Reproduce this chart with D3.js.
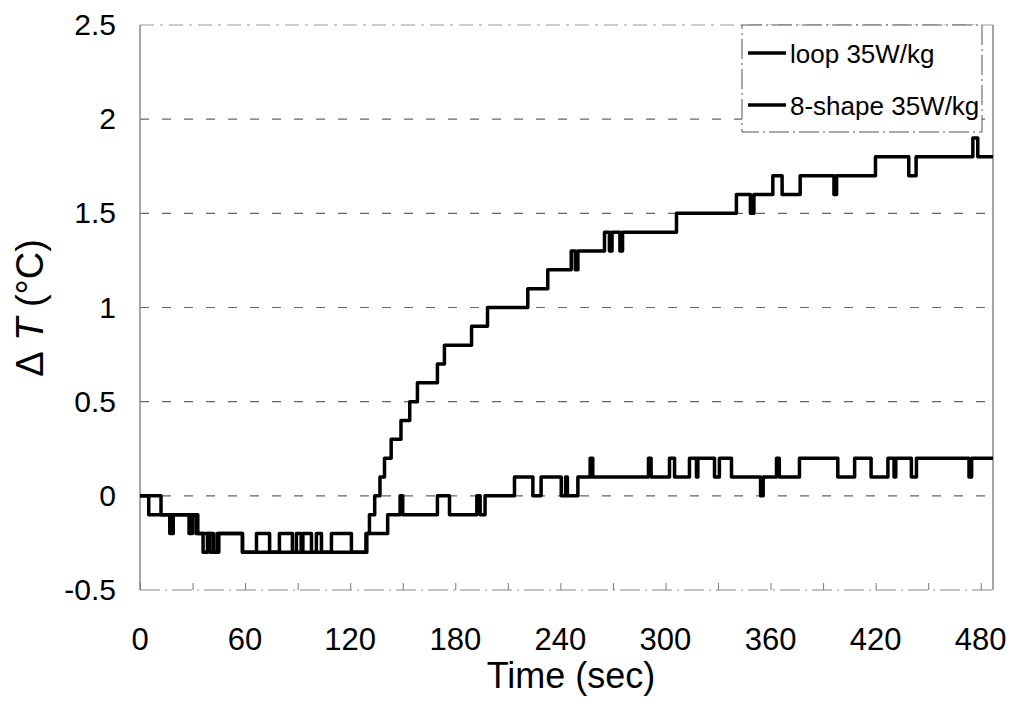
<!DOCTYPE html>
<html>
<head>
<meta charset="utf-8">
<script src="https://cdn.jsdelivr.net/npm/d3@7"></script>
<style>
	body { margin: 0; background: #fff; }
	text { font-family: Arial, "Liberation Sans", sans-serif; fill: #000; }
</style>
</head>
<body>
<div id="plot"></div>
<script>
// step data: [time (sec), dT (C)], value holds until next point
var loopSteps = [[0,0],[12,-0.1],[17,-0.2],[19,-0.1],[32,-0.2],[36,-0.3],[38.5,-0.2],[42,-0.3],[45,-0.2],[58.5,-0.3],
	[129,-0.2],[131,-0.1],[134,0],[137,0.1],[139.6,0.2],[143.4,0.3],[149,0.4],[154,0.5],[158.4,0.6],[169.8,0.7],
	[173.8,0.8],[189.3,0.9],[198.4,1.0],[221.4,1.1],[232.8,1.2],[246.2,1.3],[248.5,1.2],[250,1.3],[265.2,1.4],
	[268,1.3],[269.5,1.4],[274,1.3],[275.5,1.4],[306.3,1.5],[340.5,1.6],[348.5,1.5],[350.5,1.6],[361.3,1.7],
	[366.6,1.6],[376.9,1.7],[396.2,1.6],[397.7,1.7],[419.9,1.8],[438.9,1.7],[443.1,1.8],[475.5,1.9],[478.3,1.8],[487,1.8]];

var shapeSteps = [[0,0],[5,-0.1],[28,-0.2],[30,-0.1],[33,-0.2],[40,-0.3],[44,-0.2],[58.5,-0.3],[66.5,-0.2],[74,-0.3],
	[79.6,-0.2],[87,-0.3],[89.3,-0.2],[92,-0.3],[93,-0.2],[97.9,-0.3],[100.7,-0.2],[103.6,-0.3],[109.3,-0.2],[120.7,-0.3],
	[129.5,-0.2],[141.4,-0.1],[148.5,0],[150,-0.1],[169.8,0],[176.7,-0.1],[192.3,0],[194.2,-0.1],[197,0],[213.8,0.1],
	[224.3,0],[229,0.1],[240.5,0],[243,0.1],[244,0],[250,0.1],[257,0.2],[258.5,0.1],[290.3,0.2],[291.8,0.1],
	[302.3,0.2],[305.2,0.1],[313.7,0.2],[317.7,0.1],[318.5,0.2],[328,0.1],[330.8,0.2],[337.7,0.1],[354.3,0],[355.8,0.1],
	[363.4,0.2],[365,0.1],[376.5,0.2],[398.4,0.1],[408,0.2],[417.4,0.1],[427,0.2],[430.5,0.1],[431.5,0.2],[440.4,0.1],
	[443.3,0.2],[473.3,0.1],[474.8,0.2],[487,0.2]];

var seriesNames = ["loop 35W/kg", "8-shape 35W/kg"];
var xTicks = [0, 60, 120, 180, 240, 300, 360, 420, 480];
var xMinor = [30, 90, 150, 210, 270, 330, 390, 450];
var yTicks = [-0.5, 0, 0.5, 1, 1.5, 2, 2.5];
var yGrid = [0, 0.5, 1, 1.5, 2];

var svg = d3.select("#plot").append("svg")
	.attr("width", 1013)
	.attr("height", 707);

var x = d3.scaleLinear().domain([0, 487]).range([140, 993]);
var y = d3.scaleLinear().domain([-0.5, 2.5]).range([590, 25]);

// dashed grid
svg.selectAll("line.grid").data(yGrid).enter().append("line")
	.attr("class", "grid")
	.attr("x1", x(0)).attr("x2", x(487))
	.attr("y1", function(d){return y(d);})
	.attr("y2", function(d){return y(d);})
	.style("stroke", "#666")
	.style("stroke-width", 1.2)
	.style("stroke-dasharray", "9,13");

// frame
svg.append("line").attr("x1", x(0)).attr("x2", x(487)).attr("y1", y(2.5)).attr("y2", y(2.5))
	.style("stroke", "#999").style("stroke-dasharray", "14,6,3,6");
svg.append("line").attr("x1", x(0)).attr("x2", x(487)).attr("y1", y(-0.5)).attr("y2", y(-0.5))
	.style("stroke", "#888").style("stroke-dasharray", "20,5,2,5");
svg.append("line").attr("x1", x(0)).attr("x2", x(0)).attr("y1", y(2.5)).attr("y2", y(-0.5))
	.style("stroke", "#888").style("stroke-width", 1.5);
svg.append("line").attr("x1", x(487)).attr("x2", x(487)).attr("y1", y(2.5)).attr("y2", y(-0.5))
	.style("stroke", "#888").style("stroke-width", 1.5);

var xAxis = svg.append("g")
	.attr("transform", "translate(0," + y(-0.5) + ")")
	.call(d3.axisBottom(x).tickValues(xTicks.concat(xMinor)).tickSize(-7).tickFormat(""));
xAxis.select(".domain").remove();
xAxis.selectAll(".tick line").style("stroke", "#777");

svg.selectAll("text.xlab").data(xTicks).enter().append("text")
	.attr("class", "xlab")
	.attr("x", function(d){return x(d);})
	.attr("y", 650)
	.attr("text-anchor", "middle")
	.style("font-size", "31px")
	.text(function(d){return d;});

svg.selectAll("text.ylab").data(yTicks).enter().append("text")
	.attr("class", "ylab")
	.attr("x", 116)
	.attr("y", function(d){return y(d) + 10;})
	.attr("text-anchor", "end")
	.style("font-size", "30px")
	.text(function(d){return d;});

svg.append("text")
	.attr("x", 571).attr("y", 688)
	.attr("text-anchor", "middle")
	.style("font-size", "36px")
	.text("Time (sec)");

var yTitle = svg.append("text")
	.attr("transform", "translate(43,308) rotate(-90)")
	.attr("text-anchor", "middle")
	.style("font-size", "38px");
yTitle.append("tspan").text("\u0394");
yTitle.append("tspan").style("font-style", "italic").text(" T");
yTitle.append("tspan").text(" (\u00B0C)");

var line = d3.line()
	.x(function(d){return x(d[0]);})
	.y(function(d){return y(d[1]);})
	.curve(d3.curveStepAfter);

svg.selectAll("path.series").data([loopSteps, shapeSteps]).enter().append("path")
	.attr("class", "series")
	.attr("d", line)
	.style("fill", "none")
	.style("stroke", "#000")
	.style("stroke-width", 3.5)
	.style("stroke-linejoin", "round");

// legend
svg.append("rect")
	.attr("x", 742).attr("y", 25).attr("width", 240).attr("height", 107)
	.style("fill", "#fff")
	.style("stroke", "#555")
	.style("stroke-dasharray", "20,4,2,4");

var leg = svg.selectAll("g.leg").data(seriesNames).enter().append("g")
	.attr("class", "leg")
	.attr("transform", function(d, i){return "translate(0," + (53 + i * 52) + ")";});
leg.append("line")
	.attr("x1", 748).attr("x2", 786).attr("y1", 0).attr("y2", 0)
	.style("stroke", "#000").style("stroke-width", 3.5);
leg.append("text")
	.attr("x", 790).attr("y", 10)
	.style("font-size", "26px")
	.text(function(d){return d;});
</script>
</body>
</html>
